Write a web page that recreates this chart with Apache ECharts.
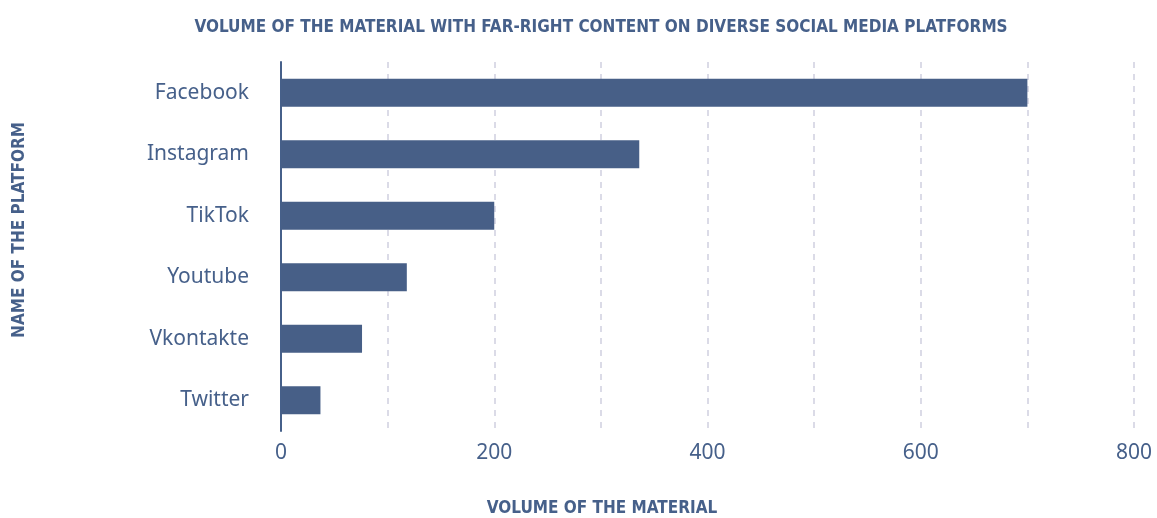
<!DOCTYPE html>
<html>
<head>
<meta charset="utf-8">
<script src="https://cdn.jsdelivr.net/npm/echarts@6/dist/echarts.min.js"></script>
<style>html,body{margin:0;padding:0;background:#fff}#c{width:1157px;height:518px}</style>
</head>
<body>
<div id="c"></div>
<script>
const categories = ['Facebook', 'Instagram', 'TikTok', 'Youtube', 'Vkontakte', 'Twitter'];
const volumes = [700, 336, 200, 118, 76, 37];
const xTicks = [0, 200, 400, 600, 800];
const titleText = 'VOLUME OF THE MATERIAL WITH FAR-RIGHT CONTENT ON DIVERSE SOCIAL MEDIA PLATFORMS';
const xName = 'VOLUME OF THE MATERIAL';
const yName = 'NAME OF THE PLATFORM';

const C = '#46608a';
const headFont = '"DejaVu Sans Condensed", "DejaVu Sans", sans-serif';
const chart = echarts.init(document.getElementById('c'));
chart.setOption({
  animation: false,
  title: [
    { text: titleText, left: 596, top: 14, textAlign: 'center',
      textStyle: { color: C, fontFamily: headFont, fontWeight: 'bold', fontSize: 17 } },
    { text: xName, left: 597, top: 495, textAlign: 'center',
      textStyle: { color: C, fontFamily: headFont, fontWeight: 'bold', fontSize: 17 } }
  ],
  graphic: [{
    type: 'text', x: 20, y: 230, rotation: Math.PI / 2,
    style: { text: yName, fill: C, align: 'center', verticalAlign: 'middle',
      font: 'bold 17px "DejaVu Sans Condensed", "DejaVu Sans", sans-serif' }
  }],
  grid: { left: 281, right: 23, top: 62, bottom: 87, containLabel: false },
  xAxis: {
    type: 'value', min: 0, max: 800, interval: 100,
    axisLine: { show: false }, axisTick: { show: false },
    splitLine: { show: true, lineStyle: { color: '#cfcfe0', type: [6, 6], width: 1.5 } },
    axisLabel: {
      color: C, fontFamily: '"Noto Sans", sans-serif', fontSize: 21, margin: 12,
      formatter: v => xTicks.indexOf(v) >= 0 ? String(v) : ''
    }
  },
  yAxis: {
    type: 'category', data: categories, inverse: true,
    axisLine: { show: true, lineStyle: { color: C, width: 2 } },
    axisTick: { show: false },
    axisLabel: { color: C, fontFamily: '"Noto Sans", sans-serif', fontSize: 21, margin: 32 }
  },
  series: [{
    type: 'bar', data: volumes, barWidth: 28,
    itemStyle: { color: '#475f87' }
  }]
});
</script>
</body>
</html>
